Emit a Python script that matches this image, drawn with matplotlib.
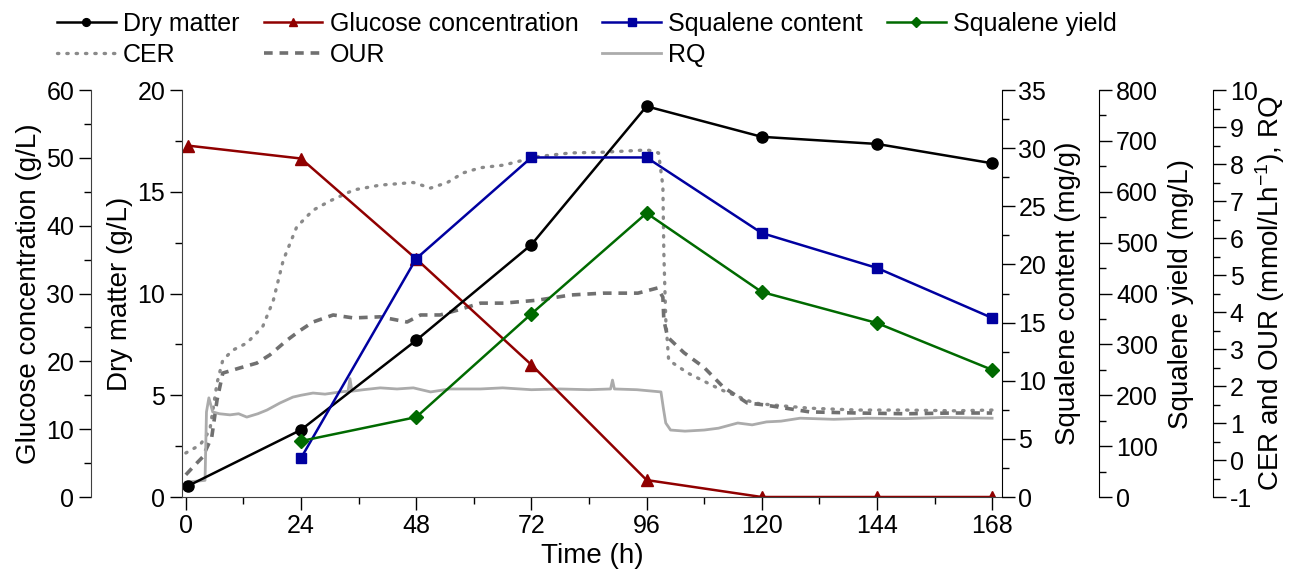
import matplotlib
matplotlib.use("Agg")
import matplotlib.pyplot as plt
from matplotlib.ticker import MultipleLocator

plt.rcParams['font.family'] = ['Liberation Sans', 'DejaVu Sans']
plt.rcParams['mathtext.default'] = 'regular'
plt.rcParams['axes.unicode_minus'] = False

# sampled data (h)
t_pts = [0.5, 24, 48, 72, 96, 120, 144, 168]
dry_matter = [0.55, 3.3, 7.7, 12.4, 19.2, 17.7, 17.35, 16.4]
glucose = [51.8, 49.9, 35.1, 19.5, 2.5, 0.0, 0.0, 0.0]
t_sq = [24, 48, 72, 96, 120, 144, 168]
sq_content = [3.35, 20.5, 29.2, 29.2, 22.7, 19.7, 15.4]
sq_yield = [110, 157, 360, 558, 403, 342, 250]

# online gas data
cer_t = [0, 3, 5, 6.5, 7.7, 9.8, 12.7, 16, 18.2, 20.3, 23.1, 26.5, 30, 35, 40.5, 47.4, 51, 54.5,
         57.8, 61.4, 66.2, 73.3, 80.2, 87, 96.2, 98.5, 99.4, 99.6, 100, 100.6, 104.6, 111.5, 118.4,
         122, 130, 140, 150, 160, 168]
cer_v = [0.19, 0.41, 0.81, 2.08, 2.7, 2.97, 3.16, 3.6, 4.3, 5.4, 6.3, 6.75, 7.0, 7.3, 7.43, 7.5, 7.35, 7.5,
         7.76, 7.9, 7.97, 8.2, 8.3, 8.32, 8.38, 8.3, 7.4, 5.6, 3.8, 2.7, 2.35, 1.9, 1.54,
         1.49, 1.4, 1.35, 1.35, 1.33, 1.35]
our_t = [0, 1.5, 3.5, 5.4, 6.5, 7.7, 11.3, 14.8, 17.5, 21.1, 23.8, 26.5, 30.7, 34.9, 40.5, 46.1, 48.9,
         53, 56.6, 61.4, 66.2, 73.3, 80.2, 87, 94.2, 98.3, 99.4, 99.6, 100.4, 103.8, 108, 112, 117,
         120.5, 130, 140, 150, 160, 168]
our_v = [-0.4, -0.19, 0.08, 0.62, 1.62, 2.35, 2.49, 2.62, 2.84, 3.24, 3.5, 3.73, 3.92, 3.84, 3.87, 3.73, 3.92,
         3.92, 4.05, 4.24, 4.24, 4.32, 4.46, 4.51, 4.51, 4.65, 4.4, 3.78, 3.32, 2.9, 2.5, 1.97, 1.54,
         1.49, 1.3, 1.27, 1.25, 1.27, 1.27]
rq_t = [0, 4, 4.3, 4.8, 5.6, 7, 9.2, 11, 12.7, 15, 16.9, 19.6, 22.3, 24, 26.5, 29, 32.2, 33.8, 34.2,
        34.6, 37, 40.5, 44, 47.4, 51, 55, 61.4, 66, 72, 78, 84, 88.5, 88.9, 89.3, 94, 99, 99.5, 100,
        101, 104, 108, 111, 115, 118, 121, 124, 128, 135, 142, 150, 158, 168]
rq_v = [-0.6, -0.55, 1.3, 1.68, 1.3, 1.25, 1.22, 1.25, 1.16, 1.25, 1.35, 1.54, 1.7, 1.75, 1.81, 1.78, 1.84, 1.86, 2.2,
        1.86, 1.9, 1.95, 1.92, 1.95, 1.84, 1.92, 1.92, 1.95, 1.9, 1.92, 1.9, 1.92, 2.16, 1.92, 1.9, 1.84, 1.4, 1.0,
        0.81, 0.78, 0.81, 0.86, 1.0, 0.95, 1.03, 1.05, 1.13, 1.1, 1.13, 1.12, 1.15, 1.13]

RED = '#900000'
BLUE = '#0000a0'
GREEN = '#006a00'
TICK_FS = 18
LAB_FS = 20

fig = plt.figure(figsize=(12.91, 5.8), dpi=100)
fig.patch.set_facecolor('white')
W0, W1 = 182 / 1291, (1001.7 - 182) / 1291
ax_gas = fig.add_axes([W0, 0.1431, W1, 0.7017])
ax = fig.add_axes([W0, 0.1431, W1, 0.7017], sharex=ax_gas)
ax_glu = ax.twinx()
ax_c = ax.twinx()
ax_y = ax.twinx()
ax_gas.set_zorder(0)
ax.set_zorder(2)
ax_glu.set_zorder(1)
ax_c.set_zorder(3)
ax_y.set_zorder(4)

for a in [ax_gas, ax, ax_glu, ax_c, ax_y]:
    for s in a.spines.values():
        s.set_visible(False)
    a.patch.set_visible(False)
ax_gas.patch.set_visible(True)
ax_gas.patch.set_facecolor('white')

# gas curves
l_cer, = ax_gas.plot(cer_t, cer_v, color='#8a8a8a', lw=2.4, linestyle=(0, (0.4, 2.4)), dash_capstyle='round')
l_our, = ax_gas.plot(our_t, our_v, color='#707070', lw=2.6, linestyle=(0, (2.4, 1.9)))
l_rq, = ax_gas.plot(rq_t, rq_v, color='#ababab', lw=2.0)

l_dry, = ax.plot(t_pts, dry_matter, color='black', lw=1.8, marker='o', ms=8)
l_glu, = ax_glu.plot(t_pts, glucose, color=RED, lw=1.8, marker='^', ms=8.5)
l_c, = ax_c.plot(t_sq, sq_content, color=BLUE, lw=1.8, marker='s', ms=7.5)
l_y, = ax_y.plot(t_sq, sq_yield, color=GREEN, lw=1.8, marker='D', ms=7)

ax.set_xlim(-0.8, 170)
ax.set_ylim(0, 20)
ax_glu.set_ylim(0, 60)
ax_c.set_ylim(0, 35)
ax_y.set_ylim(0, 800)
ax_gas.set_ylim(-1, 10)

spine_col = '#404040'
ax.spines['left'].set_visible(True)
ax.spines['bottom'].set_visible(True)
ax.spines['left'].set_color(spine_col)
ax.spines['bottom'].set_color(spine_col)
ax.set_xticks([0, 24, 48, 72, 96, 120, 144, 168])
ax.xaxis.set_minor_locator(MultipleLocator(12))
ax.yaxis.set_major_locator(MultipleLocator(5))
ax.yaxis.set_minor_locator(MultipleLocator(2.5))
ax.set_xlabel('Time (h)', fontsize=LAB_FS)
ax.set_ylabel('Dry matter (g/L)', fontsize=LAB_FS)

ax_gas.tick_params(left=False, bottom=False, labelleft=False, labelbottom=False, which='both')

ax_glu.yaxis.set_ticks_position('left')
ax_glu.yaxis.set_label_position('left')
ax_glu.spines['left'].set_visible(True)
ax_glu.spines['left'].set_color(spine_col)
ax_glu.spines['left'].set_position(('axes', (91 - 182) / 819.7))
ax_glu.yaxis.set_major_locator(MultipleLocator(10))
ax_glu.yaxis.set_minor_locator(MultipleLocator(5))
ax_glu.set_ylabel('Glucose concentration (g/L)', fontsize=LAB_FS)

ax_c.spines['right'].set_visible(True)
ax_c.yaxis.set_major_locator(MultipleLocator(5))
ax_c.yaxis.set_minor_locator(MultipleLocator(2.5))
ax_c.set_ylabel('Squalene content (mg/g)', fontsize=LAB_FS)

ax_y.spines['right'].set_visible(True)
ax_y.spines['right'].set_position(('axes', (1099.3 - 182) / 819.7))
ax_y.yaxis.set_major_locator(MultipleLocator(100))
ax_y.yaxis.set_minor_locator(MultipleLocator(50))
ax_y.set_ylabel('Squalene yield (mg/L)', fontsize=LAB_FS)

# gas axis on far right
ax_gas.yaxis.set_ticks_position('right')
ax_gas.yaxis.set_label_position('right')
ax_gas.spines['right'].set_visible(True)
ax_gas.spines['right'].set_position(('axes', (1213 - 182) / 819.7))
ax_gas.yaxis.set_major_locator(MultipleLocator(1))
ax_gas.yaxis.set_minor_locator(MultipleLocator(0.5))
ax_gas.tick_params(axis='y', right=True, labelright=True, which='both')
ax_gas.set_ylabel('CER and OUR (mmol/Lh$^{-1}$), RQ', fontsize=LAB_FS)

for a in [ax, ax_glu, ax_c, ax_y, ax_gas]:
    a.tick_params(which='major', direction='out', length=9, width=1.0, labelsize=TICK_FS, pad=3)
    a.tick_params(which='minor', direction='out', length=5, width=1.0)
ax_gas.tick_params(axis='x', which='both', bottom=False, labelbottom=False)

ax_glu.yaxis.set_label_coords((42 - 182) / 819.7, 0.5)
ax.yaxis.set_label_coords((133 - 182) / 819.7, 0.5)
ax_c.yaxis.set_label_coords((1055 - 182) / 819.7, 0.5)
ax_y.yaxis.set_label_coords((1168 - 182) / 819.7, 0.5)
ax_gas.yaxis.set_label_coords((1253 - 182) / 819.7, 0.5)

handles = [l_dry, l_cer, l_glu, l_our, l_c, l_rq, l_y]
labels = ['Dry matter', 'CER', 'Glucose concentration', 'OUR', 'Squalene content', 'RQ', 'Squalene yield']
fig.legend(handles, labels, ncol=4, loc='upper left', bbox_to_anchor=(57 / 1291, 1 - 12 / 580),
           frameon=False, fontsize=18, handlelength=2.35, handletextpad=0.3, columnspacing=0.95,
           labelspacing=0.28, borderpad=0, borderaxespad=0, markerscale=0.7)

fig.savefig('out.png', dpi=100, facecolor='white')
